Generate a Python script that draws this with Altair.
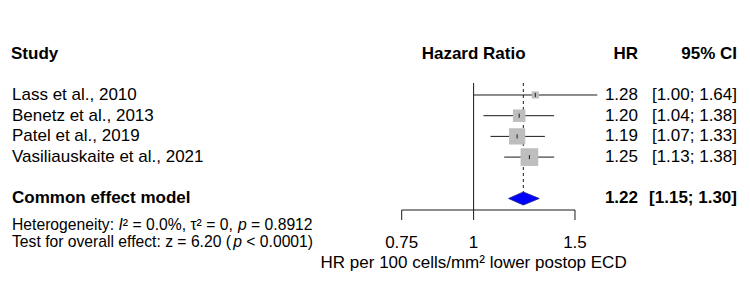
import altair as alt
import pandas as pd

# ---- study data ----
studies = ["Lass et al., 2010", "Benetz et al., 2013", "Patel et al., 2019",
           "Vasiliauskaite et al., 2021"]
hr = [1.28, 1.20, 1.19, 1.25]
ci_low = [1.00, 1.04, 1.07, 1.13]
ci_high = [1.64, 1.38, 1.33, 1.38]
weights = [6.5, 19.9, 33.7, 39.9]

# ---- pooled estimate ----
pooled_label = "Common effect model"
pooled_hr = 1.22
pooled_low = 1.15
pooled_high = 1.30

# ---- text ----
tick_values = [0.75, 1, 1.5]
tick_labels_txt = ["0.75", "1", "1.5"]
# (text, italic) pieces of the two statistics lines
heterogeneity = [("Heterogeneity: ", False), ("I", True),
                 ("² = 0.0%, τ² = 0, ", False), ("p", True), (" = 0.8912", False)]
overall_test = [("Test for overall effect: z = 6.20 (", False), ("p", True),
                (" < 0.0001)", False)]
x_title = "HR per 100 cells/mm² lower postop ECD"

FONT = "Liberation Sans"
W, H = 750, 294
STAT_SIZE = 15.7

# Liberation Sans advance widths (1/1000 em), used to place the italic pieces
ADV = {" ": 278, "H": 722, "e": 556, "t": 278, "r": 333, "o": 556,
       "g": 556, "n": 556, "i": 222, "y": 500, ":": 278, "I": 278, "²": 333,
       "=": 584, "0": 556, ".": 278, "%": 889, ",": 278, "τ": 440, "p": 556,
       "8": 556, "9": 556, "1": 556, "2": 556, "T": 611, "s": 500, "f": 278,
       "v": 500, "a": 556, "l": 222, "c": 500, "z": 500, "6": 556, "(": 333,
       ")": 333, "<": 584}


def text_width(s, size):
    return sum(ADV.get(ch, 556) for ch in s) * size / 1000.0


# Vertical layout in "row" units (one row = one study line)
study_rows = [2, 3, 4, 5]
header_row = 0
pooled_row = 7
axis_row = 7.556
tick_end_row = 8.04
tick_label_row = 9.15
title_row = 10.14
het_row = 8.28
test_row = 9.08
ref_top_row = 1.42
diamond_half = 0.314

xs = alt.Scale(type="log", domain=[0.1504, 3.021], nice=False)
ys = alt.Scale(domain=[-2.589, 11.614], reverse=True, nice=False, zero=False)


def X(f):
    return alt.X(f, type="quantitative", scale=xs, axis=None)


def Y(f):
    return alt.Y(f, type="quantitative", scale=ys, axis=None)


df = pd.DataFrame({
    "study": studies, "hr": hr, "lo": ci_low, "hi": ci_high, "w": weights,
    "row": study_rows,
})
df["hr_txt"] = [f"{v:.2f}" for v in hr]
df["ci_txt"] = [f"[{a:.2f}; {b:.2f}]" for a, b in zip(ci_low, ci_high)]
df["mark_top"] = df["row"] - 0.1
df["mark_bot"] = df["row"] + 0.1

LINE = "#1a1a1a"

# CI whiskers
ci_lines = alt.Chart(df).mark_rule(color=LINE, strokeWidth=1).encode(
    x=X("lo"), x2="hi", y=Y("row"))

# weight boxes
boxes = alt.Chart(df).mark_square(color="#BEBEBE", opacity=1).encode(
    x=X("hr"), y=Y("row"),
    size=alt.Size("w:Q", scale=alt.Scale(domain=[0, 39.9], range=[0, 313]),
                  legend=None))

# point estimate marker inside each box
centers = alt.Chart(df).mark_rule(color=LINE, strokeWidth=1).encode(
    x=X("hr"), y=Y("mark_top"), y2="mark_bot")

# reference line of no effect
ref_df = pd.DataFrame({"x": [1], "top": [ref_top_row], "bot": [axis_row]})
ref_line = alt.Chart(ref_df).mark_rule(color=LINE, strokeWidth=1).encode(
    x=X("x"), y=Y("top"), y2="bot")

# pooled estimate dashed line
pool_df = pd.DataFrame({"x": [pooled_hr], "top": [ref_top_row],
                        "bot": [pooled_row - diamond_half]})
pool_line = alt.Chart(pool_df).mark_rule(
    color=LINE, strokeWidth=1, strokeDash=[3, 3]).encode(
    x=X("x"), y=Y("top"), y2="bot")

# pooled diamond
dia_df = pd.DataFrame({
    "x": [pooled_low, pooled_hr, pooled_high],
    "y": [pooled_row, pooled_row - diamond_half, pooled_row],
    "y2": [pooled_row, pooled_row + diamond_half, pooled_row],
})
diamond = alt.Chart(dia_df).mark_area(
    color="#0000FF", stroke="#1b1b8a", strokeWidth=0.8, orient="vertical",
    opacity=1).encode(x=X("x"), y=Y("y"), y2="y2")

# x axis drawn from the tick values
axis_df = pd.DataFrame({"x": [min(tick_values)], "x2": [max(tick_values)],
                        "row": [axis_row]})
axis_line = alt.Chart(axis_df).mark_rule(color=LINE, strokeWidth=1).encode(
    x=X("x"), x2="x2", y=Y("row"))
ticks_df = pd.DataFrame({"x": tick_values, "top": axis_row, "bot": tick_end_row,
                         "lab_row": tick_label_row, "label": tick_labels_txt})
tick_marks = alt.Chart(ticks_df).mark_rule(color=LINE, strokeWidth=1).encode(
    x=X("x"), y=Y("top"), y2="bot")
tick_labels = alt.Chart(ticks_df).mark_text(
    font=FONT, fontSize=17, color="black", baseline="middle", align="center").encode(
    x=X("x"), y=Y("lab_row"), text="label:N")
title_df = pd.DataFrame({"x": [1], "row": [title_row], "t": [x_title]})
axis_title = alt.Chart(title_df).mark_text(
    font=FONT, fontSize=17, color="black", baseline="middle", align="center").encode(
    x=X("x"), y=Y("row"), text="t:N")


def text_layer(data, x_px, align, bold=False, size=17, italic=False):
    return alt.Chart(data).mark_text(
        font=FONT, fontSize=size, color="black", baseline="middle", align=align,
        fontWeight="bold" if bold else "normal",
        fontStyle="italic" if italic else "normal").encode(
        x=alt.value(x_px), y=Y("row"), text="t:N")


study_txt = text_layer(df.assign(t=df["study"]), 12, "left")
hr_txt = text_layer(df.assign(t=df["hr_txt"]), 638, "right")
ci_txt = text_layer(df.assign(t=df["ci_txt"]), 737, "right")

hdr = lambda s: pd.DataFrame({"row": [header_row], "t": [s]})
h_study = text_layer(hdr("Study"), 11, "left", bold=True)
h_hr = text_layer(hdr("HR"), 638, "right", bold=True)
h_ci = text_layer(hdr("95% CI"), 737, "right", bold=True)
h_ratio = alt.Chart(pd.DataFrame({"x": [1], "row": [header_row],
                                  "t": ["Hazard Ratio"]})).mark_text(
    font=FONT, fontSize=17, color="black", baseline="middle", align="center",
    fontWeight="bold").encode(x=X("x"), y=Y("row"), text="t:N")

prow = lambda s: pd.DataFrame({"row": [pooled_row], "t": [s]})
p_label = text_layer(prow(pooled_label), 12, "left", bold=True)
p_hr = text_layer(prow(f"{pooled_hr:.2f}"), 638, "right", bold=True)
p_ci = text_layer(prow(f"[{pooled_low:.2f}; {pooled_high:.2f}]"), 737, "right",
                  bold=True)


def rich_line(pieces, row, x0=12, size=STAT_SIZE):
    # leading spaces of a piece are dropped by the renderer, so they are
    # turned into an x offset instead
    layers = []
    x = x0
    for s, it in pieces:
        body = s.lstrip(" ")
        lead = text_width(s[: len(s) - len(body)], size)
        layers.append(text_layer(pd.DataFrame({"row": [row], "t": [body]}),
                                 x + lead, "left", size=size, italic=it))
        x += text_width(s, size)
    return layers


stat_layers = rich_line(heterogeneity, het_row) + rich_line(overall_test, test_row)

chart = alt.layer(
    ref_line, pool_line, ci_lines, boxes, centers, diamond,
    axis_line, tick_marks, tick_labels, axis_title,
    h_study, h_ratio, h_hr, h_ci,
    study_txt, hr_txt, ci_txt,
    p_label, p_hr, p_ci, *stat_layers,
).properties(
    width=W, height=H, padding=0,
    autosize=alt.AutoSizeParams(type="none"),
    background="white",
).configure_view(stroke=None)

chart.save("out.html", embed_options={"renderer": "svg", "actions": False})
